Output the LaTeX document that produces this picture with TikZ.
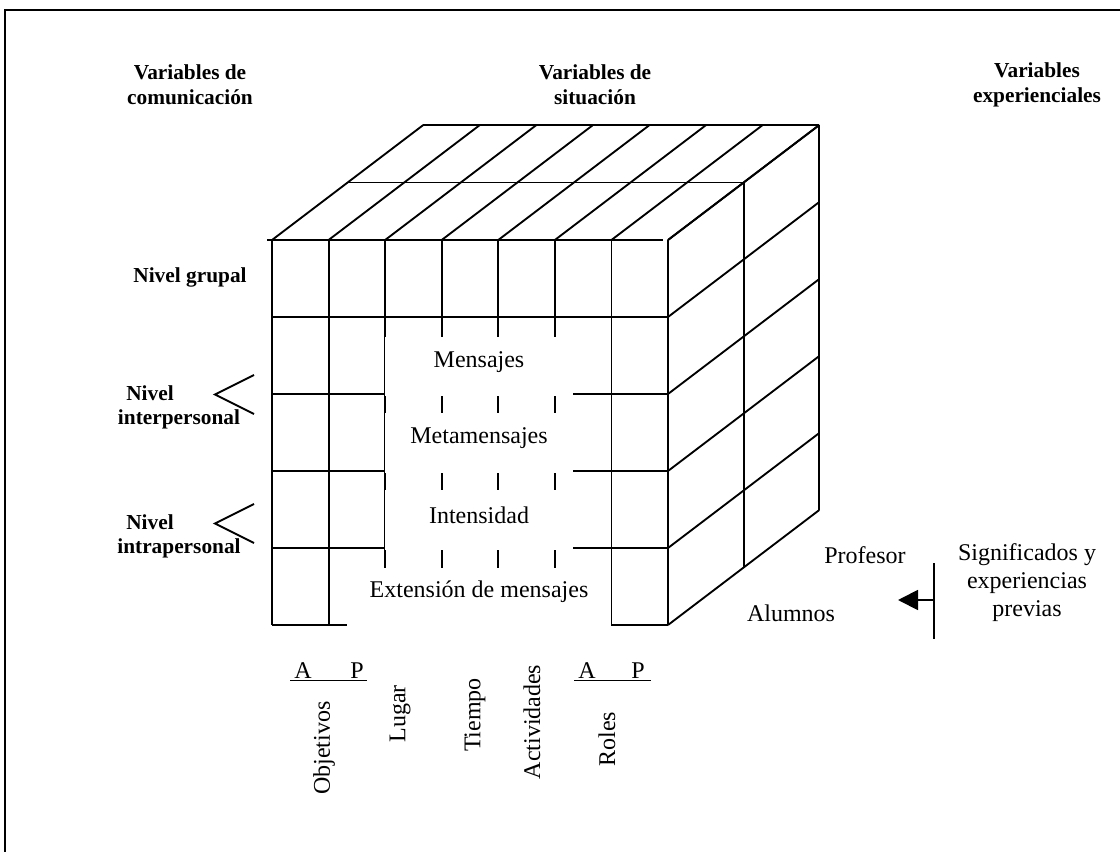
\documentclass[tikz,border=0pt]{standalone}
\usepackage{fontspec}
\setmainfont{Liberation Serif}
\usetikzlibrary{arrows.meta}
\begin{document}
\begin{tikzpicture}[x=0.75pt,y=-0.75pt,
  edge/.style={line width=1.4pt},
  head/.style={font=\fontsize{16}{18.75}\selectfont\bfseries, align=center, inner sep=0pt},
  body/.style={font=\fontsize{18}{21}\selectfont, align=center, inner sep=0pt},
  vert/.style={body, rotate=90}]
\useasboundingbox (0,0) rectangle (1120,852);

% outer frame (top and left edges)
\draw[line width=1.5pt] (1120,10) -- (5,10) -- (5,852);

% ---- cube: front face ----
\foreach \k in {0,...,7}
  \draw[edge] ({272+56.571*\k},240) -- ({272+56.571*\k},625);
\draw[edge] (267,240) -- (663,240);
\foreach \j in {1,...,5}
  \draw[edge] (272,{240+77*\j}) -- (668,{240+77*\j});

% ---- top face ----
\foreach \k in {0,...,7}
  \draw[edge] ({272+56.571*\k},240) -- ++(151.3,-115);
\draw[edge] (347.65,182.5) -- (743.65,182.5);
\draw[edge] (423.3,125) -- (819.3,125);

% ---- right face ----
\foreach \j in {0,...,5}
  \draw[edge] (668,{240+77*\j}) -- ++(151.3,-115);
\draw[edge] (743.65,182.5) -- (743.65,567.5);
\draw[edge] (819.3,125) -- (819.3,510);

% ---- open band in the middle of the front face ----
\fill[white] (384.5,337) rectangle (573,395.5);
\fill[white] (384.5,413) rectangle (573,472.5);
\fill[white] (384.5,490) rectangle (573,549.5);
\fill[white] (347,568) rectangle (611,630);

\node[body] (msg)  at (479,362) {Mensajes};
\node[body] (meta) at (479,438) {Metamensajes};
\node[body] (int)  at (479,515) {Intensidad};
\node[body] (ext)  at (479,592) {Extensión de mensajes};

% ---- headings ----
\node[head] (vcom) at (190,84.5)  {Variables de\\comunicación};
\node[head] (vsit) at (595,84.5)  {Variables de\\situación};
\node[head] (vexp) at (1037,84.5) {Variables\\experienciales};

% ---- levels ----
\node[head] (ngr)    at (190,277) {Nivel grupal};
\node[head] (ninter) at (150,393) {Nivel};
\node[head] (ninter2) at (179,419) {interpersonal};
\node[head] (nintra) at (150,522) {Nivel};
\node[head] (nintra2) at (179,548) {intrapersonal};
\draw[edge] (254,375) -- (215,394.5) -- (254,414);
\draw[edge] (254,504) -- (215,523.5) -- (254,543);

% ---- variables along the bottom ----
\node[body, anchor=base] (a1) at (303,678) {A};
\node[body, anchor=base] (p1) at (357,678) {P};
\draw[edge] (290,680.5) -- (367,680.5);
\node[body, anchor=base] (a2) at (587,678) {A};
\node[body, anchor=base] (p2) at (638,678) {P};
\draw[edge] (574,680.5) -- (651,680.5);

\node[vert] (obj) at (324,748) {Objetivos};
\node[vert] (lug) at (400,714) {Lugar};
\node[vert] (tie) at (475,715) {Tiempo};
\node[vert] (act) at (532,722) {Actividades};
\node[vert] (rol) at (607,739) {Roles};

% ---- right side ----
\node[body] (prof) at (865,555) {Profesor};
\node[body] (alum) at (791,613) {Alumnos};
\node[body] (sig)  at (1027,583) {Significados y\\experiencias\\previas};
\coordinate (barT) at (934,563);
\coordinate (barB) at (934,639);
\coordinate (barM) at (934,600);
\coordinate (tip)  at (898,600);
\draw[edge] (barT) -- (barB);
\draw[edge, -{Triangle[length=15pt,width=15pt]}] (barM) -- (tip);
\end{tikzpicture}
\end{document}
